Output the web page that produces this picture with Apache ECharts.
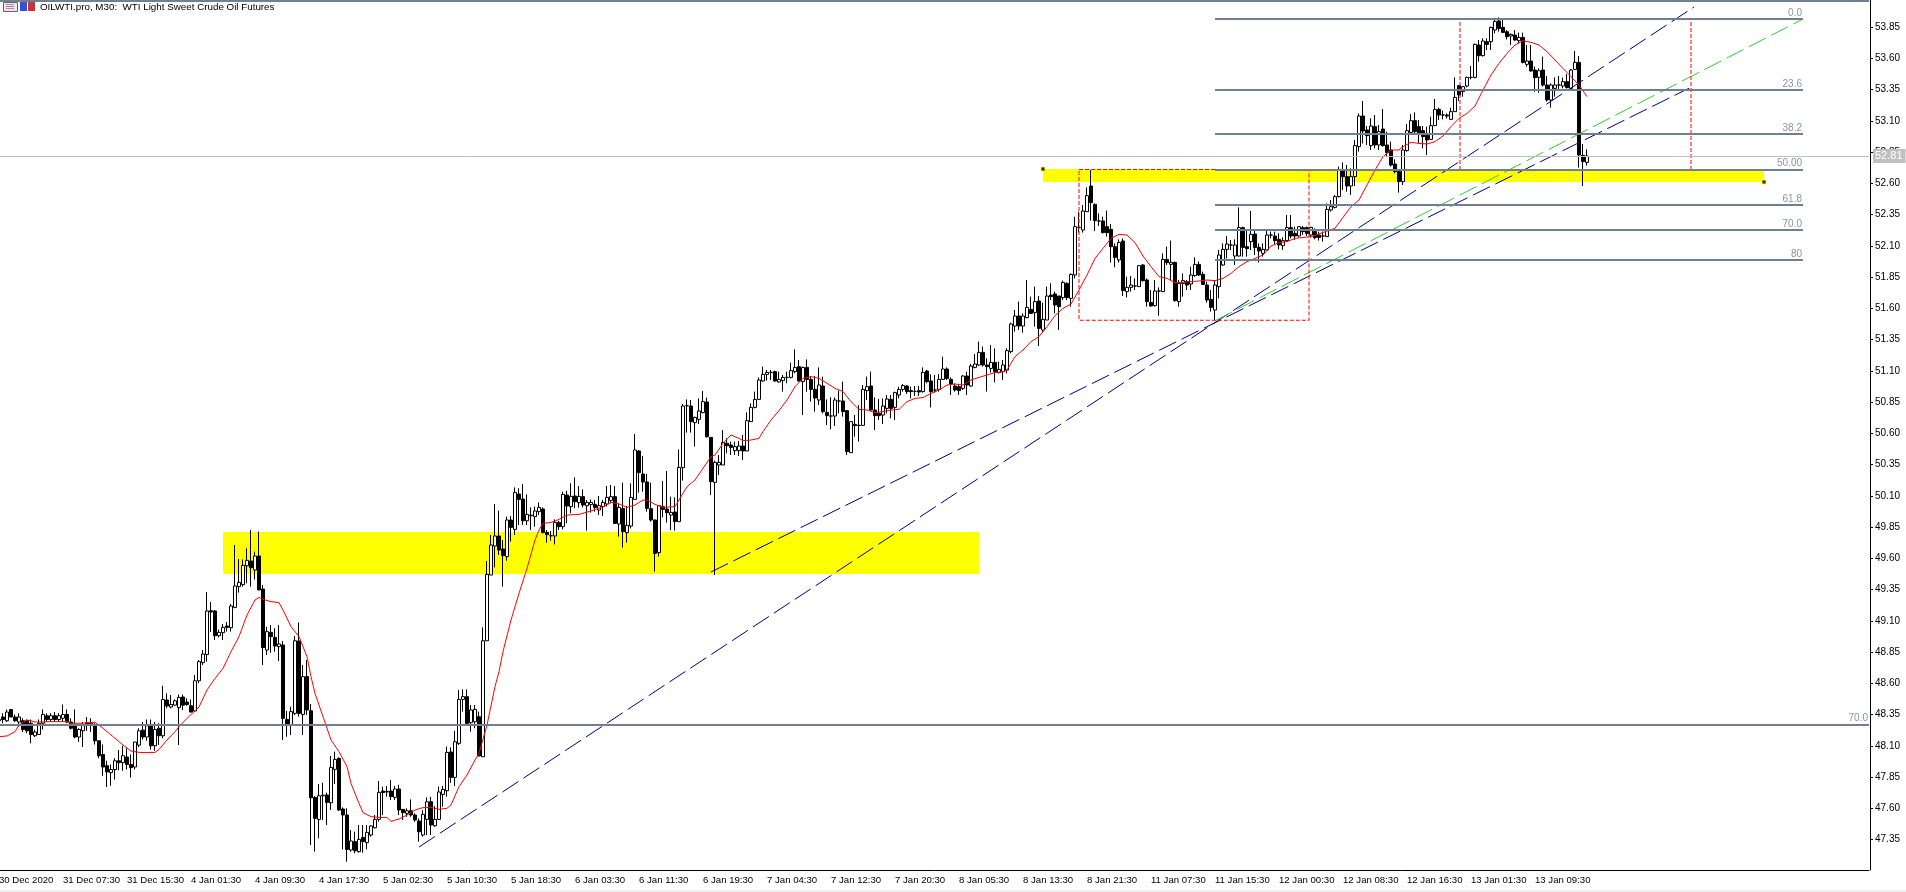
<!DOCTYPE html>
<html>
<head>
<meta charset="utf-8">
<title>OILWTI.pro M30</title>
<style>
html,body{margin:0;padding:0;background:#fff;overflow:hidden}
#chart{position:absolute;left:0;top:0;width:1906px;height:892px}
#strip{position:absolute;left:0;bottom:0;width:1906px;height:2px;background:#f0f0f0}
</style>
<script src="https://cdn.jsdelivr.net/npm/echarts@6/dist/echarts.min.js"></script>
</head>
<body>
<div id="chart"></div>
<div id="strip"></div>
<script>
const titleText = 'OILWTI.pro, M30:  WTI Light Sweet Crude Oil Futures';
const timeLabels = ['30 Dec 2020','31 Dec 07:30','31 Dec 15:30','4 Jan 01:30','4 Jan 09:30','4 Jan 17:30','5 Jan 02:30','5 Jan 10:30','5 Jan 18:30','6 Jan 03:30','6 Jan 11:30','6 Jan 19:30','7 Jan 04:30','7 Jan 12:30','7 Jan 20:30','8 Jan 05:30','8 Jan 13:30','8 Jan 21:30','11 Jan 07:30','11 Jan 15:30','12 Jan 00:30','12 Jan 08:30','12 Jan 16:30','13 Jan 01:30','13 Jan 09:30'];
const priceTicks = [47.35,47.60,47.85,48.10,48.35,48.60,48.85,49.10,49.35,49.60,49.85,50.10,50.35,50.60,50.85,51.10,51.35,51.60,51.85,52.10,52.35,52.60,52.85,53.10,53.35,53.60,53.85];

// candle rows: [open, close, low, high]
const candlesDec = [
[48.30,48.31,48.27,48.33],[48.33,48.31,48.28,48.36],[48.30,48.37,48.29,48.39],[48.39,48.33,48.33,48.39],[48.33,48.30,48.29,48.35],[48.29,48.33,48.25,48.36],[48.30,48.23,48.21,48.32],[48.30,48.22,48.20,48.31],[48.28,48.19,48.12,48.31],[48.18,48.21,48.17,48.23],
[48.19,48.28,48.19,48.31],[48.28,48.35,48.23,48.39],[48.34,48.31,48.29,48.36],[48.31,48.34,48.29,48.36],[48.34,48.31,48.29,48.37],[48.31,48.34,48.29,48.36],[48.32,48.35,48.29,48.43],[48.35,48.29,48.28,48.39],[48.29,48.24,48.23,48.32],[48.27,48.17,48.16,48.39],
[48.17,48.23,48.13,48.24],[48.22,48.27,48.09,48.29],[48.28,48.27,48.22,48.33],[48.27,48.28,48.21,48.32],[48.27,48.14,48.11,48.28],[48.14,48.02,48.00,48.14],[48.03,47.93,47.86,48.11],[47.94,47.89,47.77,47.98],[47.885,47.91,47.78,47.95],[47.91,47.98,47.83,48.00],
[47.98,47.965,47.905,48.065],[47.965,48.02,47.90,48.10],[48.01,47.95,47.91,48.08],[47.95,47.925,47.845,48.03],[47.93,48.13,47.91,48.13],[48.105,48.22,48.09,48.24],[48.225,48.17,48.15,48.29],[48.17,48.26,48.14,48.31],[48.26,48.10,48.07,48.31],[48.10,48.23,48.06,48.29],
[48.24,48.18,48.107,48.28],[48.18,48.47,48.16,48.58],[48.466,48.418,48.40,48.52],[48.41,48.43,48.40,48.506],[48.425,48.46,48.42,48.47],[48.405,48.487,48.106,48.51],[48.49,48.425,48.386,48.51],[48.45,48.43,48.42,48.48],[48.42,48.37,48.366,48.47],[48.378,48.62,48.37,48.666]
];
const candlesJan4 = [
[48.62,48.773,48.60,48.786],[48.765,48.834,48.745,48.866],[48.83,49.178,48.773,49.33],[49.18,49.17,49.01,49.25],[49.178,48.98,48.946,49.186],[48.98,49.007,48.967,49.03],[49.005,49.047,48.946,49.074],[49.058,49.047,49.013,49.09],[49.045,49.218,49.013,49.234],[49.207,49.378,49.20,49.706],
[49.373,49.407,49.325,49.594],[49.389,49.543,49.373,49.591],[49.54,49.583,49.40,49.68],[49.578,49.525,49.373,49.826],[49.506,49.618,49.43,49.653],[49.618,49.346,49.346,49.813],[49.354,48.885,48.746,49.386],[48.866,49.013,48.826,49.053],[49.007,48.973,48.845,49.066],[48.967,48.898,48.853,49.04],
[48.893,48.914,48.778,49.066],[48.906,48.319,48.146,48.938],[48.311,48.271,48.172,48.378],[48.266,48.373,48.186,48.413],[48.359,48.94,48.346,48.978],[48.938,48.359,48.333,49.087],[48.351,48.653,48.186,48.746],[48.653,48.386,48.346,48.786],[48.38,47.684,47.306,48.434],[47.687,47.519,47.253,47.698],
[47.511,47.70,47.36,47.794],[47.70,47.705,47.506,47.804],[47.706,47.647,47.466,47.725],[47.644,47.927,47.586,48.018],[47.911,47.991,47.794,48.053],[47.999,47.586,47.578,48.007],[47.594,47.546,47.271,47.607],[47.546,47.271,47.172,47.60],[47.266,47.338,47.253,47.426],[47.333,47.26,47.24,47.413],
[47.253,47.351,47.245,47.466],[47.367,47.333,47.245,47.466],[47.325,47.407,47.271,47.466],[47.386,47.458,47.373,47.466],[47.444,47.511,47.439,47.546],[47.511,47.727,47.493,47.818],[47.738,47.725,47.546,47.772],[47.73,47.735,47.693,47.778],[47.738,47.693,47.666,47.826],[47.687,47.754,47.666,47.778]
];
const candlesJan5 = [
[47.754,47.586,47.546,47.788],[47.591,47.565,47.506,47.594],[47.559,47.58,47.532,47.60],[47.58,47.546,47.532,47.671],[47.546,47.506,47.493,47.56],[47.498,47.412,47.332,47.519],[47.386,47.551,47.373,47.586],[47.511,47.652,47.386,47.687],[47.652,47.466,47.386,47.692],[47.46,47.511,47.452,47.618],
[47.511,47.73,47.506,47.773],[47.711,47.751,47.612,47.778],[47.74,48.047,47.693,48.093],[48.05,47.847,47.804,48.087],[47.847,48.132,47.778,48.22],[48.119,48.471,48.106,48.546],[48.471,48.493,48.373,48.551],[48.493,48.279,48.279,48.551],[48.285,48.386,48.213,48.426],[48.292,48.391,48.24,48.426],
[48.332,48.018,48.018,48.373],[48.012,48.94,48.012,49.047],[48.94,49.471,48.94,49.578],[49.466,49.706,49.466,49.786],[49.698,49.778,49.527,50.034],[49.778,49.666,49.626,49.981],[49.674,49.621,49.373,49.746],[49.613,49.906,49.58,49.933],[49.906,49.847,49.733,49.938],[49.831,50.127,49.786,50.167],
[50.114,50.071,49.866,50.159],[50.074,49.90,49.866,50.194],[49.90,49.951,49.866,50.111],[49.94,49.945,49.826,50.007],[49.933,49.978,49.853,50.013],[49.973,50.007,49.946,50.047],[49.994,49.805,49.80,50.007],[49.807,49.789,49.725,49.826],[49.78,49.78,49.741,49.818],[49.778,49.887,49.711,49.911],
[49.887,49.853,49.826,49.90],[49.853,50.111,49.831,50.133],[50.106,50.018,49.88,50.14],[50.013,50.095,49.96,50.20],[50.098,50.053,50.00,50.247],[50.045,50.095,50.005,50.178],[50.093,50.026,50.007,50.151],[50.02,50.047,49.82,50.066],[50.029,50.047,49.965,50.071],[50.031,50.007,49.973,50.066]
];
const candlesJan6 = [
[49.986,50.021,49.946,50.098],[50.013,50.047,49.938,50.066],[50.034,50.087,50.013,50.178],[50.061,50.093,50.039,50.186],[50.093,49.879,49.874,50.178],[49.874,50.007,49.773,50.039],[49.999,49.813,49.685,50.205],[49.805,49.863,49.725,50.018],[49.858,50.087,49.839,50.199],[50.071,50.466,50.071,50.594],
[50.458,50.285,50.125,50.466],[50.274,50.21,50.133,50.418],[50.21,49.999,49.973,50.274],[49.997,49.906,49.893,50.205],[49.906,49.639,49.493,49.911],[49.645,50.021,49.613,50.026],[50.013,49.991,49.927,50.218],[49.994,49.965,49.885,50.298],[49.946,49.967,49.826,50.093],[49.97,49.893,49.821,50.087],
[49.893,50.327,49.893,50.471],[50.325,50.818,50.221,50.834],[50.82,50.82,50.605,50.871],[50.818,50.693,50.605,50.866],[50.685,50.727,50.493,50.733],[50.711,50.778,50.674,50.879],[50.765,50.853,50.759,50.938],[50.85,50.573,50.565,50.885],[50.567,50.213,50.106,50.568],[50.207,50.367,49.466,50.381],
[50.346,50.367,50.266,50.426],[50.346,50.527,50.346,50.626],[50.52,50.50,50.44,50.56],[50.506,50.487,50.426,50.533],[50.461,50.493,50.426,50.533],[50.461,50.498,50.418,50.538],[50.498,50.458,50.386,50.586],[50.458,50.701,50.458,50.767],[50.693,50.807,50.693,50.839],[50.807,50.871,50.799,50.933],
[50.871,51.026,50.866,51.047],[51.018,51.071,51.013,51.133],[51.071,51.087,51.021,51.106],[51.087,51.087,51.026,51.106],[51.093,51.018,51.013,51.101],[51.01,51.031,51.005,51.093],[51.021,51.047,50.933,51.066],[51.047,51.047,51.00,51.093],[51.047,51.101,51.039,51.165],[51.093,51.127,51.079,51.271]
];
const candlesJan7 = [
[51.133,51.018,51.013,51.186],[51.013,51.127,50.746,51.133],[51.127,51.031,50.933,51.191],[51.031,50.951,50.853,51.058],[50.951,50.882,50.773,51.058],[50.866,50.986,50.826,51.127],[50.978,50.773,50.759,51.053],[50.767,50.741,50.666,50.871],[50.738,50.738,50.631,50.887],[50.738,50.866,50.658,50.887],
[50.858,50.858,50.759,50.941],[50.858,50.773,50.733,51.013],[50.781,50.453,50.426,50.781],[50.445,50.693,50.445,50.693],[50.671,50.661,50.573,50.746],[50.663,50.663,50.533,50.826],[50.663,50.951,50.658,50.986],[50.941,50.973,50.866,51.053],[50.978,50.786,50.781,51.093],[50.786,50.741,50.626,50.887],
[50.759,50.741,50.706,50.874],[50.746,50.818,50.674,50.879],[50.799,50.874,50.759,50.906],[50.871,50.799,50.719,50.906],[50.807,50.925,50.706,50.933],[50.906,50.951,50.879,50.973],[50.951,50.981,50.933,50.994],[50.978,50.933,50.914,50.986],[50.941,50.933,50.879,50.973],[50.935,50.935,50.898,50.978],
[50.941,50.93,50.898,50.978],[50.933,51.087,50.925,51.127],[51.098,51.013,51.00,51.106],[51.018,50.933,50.807,51.071],[50.946,50.946,50.925,51.066],[50.951,51.031,50.933,51.074],[51.031,51.114,51.026,51.213],[51.114,51.039,51.026,51.127],[51.031,50.994,50.906,51.047],[50.978,50.946,50.933,50.999],
[50.973,50.941,50.906,50.986],[50.959,51.058,50.946,51.066],[51.058,50.986,50.906,51.093],[50.978,51.138,50.973,51.154],[51.127,51.154,51.119,51.234],[51.146,51.247,51.138,51.333],[51.247,51.146,51.133,51.293],[51.146,51.133,50.933,51.199],[51.119,51.167,51.085,51.306],[51.167,51.093,51.007,51.279]
];
const candlesJan8 = [
[51.085,51.111,51.079,51.173],[51.093,51.146,51.026,51.186],[51.106,51.261,51.079,51.279],[51.253,51.474,51.239,51.485],[51.458,51.538,51.413,51.586],[51.538,51.458,51.426,51.653],[51.458,51.538,51.405,51.559],[51.525,51.607,51.519,51.826],[51.591,51.559,51.559,51.693],[51.565,51.653,51.453,51.773],
[51.658,51.439,51.298,51.698],[51.426,51.511,51.405,51.645],[51.506,51.698,51.506,51.773],[51.706,51.693,51.666,51.799],[51.714,51.626,51.559,51.733],[51.698,51.613,51.426,51.698],[51.685,51.807,51.666,51.821],[51.799,51.685,51.666,51.807],[51.679,51.871,51.613,51.879],[51.866,52.253,51.839,52.333],
[52.247,52.247,52.205,52.373],[52.226,52.378,52.205,52.426],[52.373,52.501,52.373,52.567],[52.578,52.445,52.301,52.706],[52.431,52.301,52.218,52.439],[52.298,52.298,52.258,52.359],[52.298,52.205,52.199,52.333],[52.253,52.205,52.173,52.381],[52.231,52.093,51.965,52.274],[52.093,52.007,51.927,52.119],
[51.986,52.127,51.965,52.151],[52.138,51.741,51.698,52.159],[51.733,51.767,51.687,51.853],[51.767,51.786,51.733,51.858],[51.778,51.778,51.746,51.839],[51.773,51.941,51.773,51.946],[51.946,51.821,51.813,51.954],[51.826,51.653,51.613,51.839],[51.647,51.618,51.613,51.746],[51.621,51.738,51.613,51.826],
[51.738,51.738,51.541,51.767],[51.733,51.991,51.733,52.039],[51.991,51.965,51.946,52.093],[51.951,51.967,51.826,52.141],[51.967,51.661,51.653,51.973],[51.653,51.799,51.613,51.826],[51.799,51.821,51.693,51.879],[51.813,51.786,51.746,51.826],[51.794,51.866,51.746,51.933],[51.861,51.951,51.853,52.007]
];
const candlesJan11 = [
[51.951,51.866,51.858,51.973],[51.871,51.791,51.786,51.893],[51.786,51.666,51.645,51.813],[51.671,51.607,51.573,51.746],[51.586,51.786,51.506,51.826],[51.773,52.026,51.679,52.066],[51.946,52.071,51.938,52.119],[52.071,52.114,51.999,52.178],[52.106,52.106,52.066,52.146],[52.018,52.106,51.946,52.151],
[52.018,52.245,52.013,52.407],[52.245,52.087,52.013,52.253],[52.093,52.077,52.013,52.226],[52.133,52.191,52.066,52.378],[52.194,52.087,52.026,52.226],[52.087,52.058,51.965,52.119],[52.039,52.071,52.013,52.119],[52.066,52.186,52.066,52.221],[52.186,52.186,52.159,52.213],[52.178,52.141,52.106,52.213],
[52.151,52.106,52.071,52.199],[52.101,52.141,52.066,52.167],[52.141,52.245,52.133,52.346],[52.245,52.178,52.159,52.346],[52.199,52.178,52.146,52.253],[52.178,52.253,52.167,52.253],[52.245,52.213,52.186,52.258],[52.245,52.199,52.178,52.253],[52.186,52.247,52.167,52.253],[52.213,52.165,52.151,52.239],
[52.186,52.167,52.141,52.213],[52.178,52.178,52.133,52.213],[52.173,52.391,52.173,52.439],[52.386,52.413,52.373,52.466],[52.407,52.493,52.399,52.506],[52.493,52.706,52.487,52.733],[52.706,52.653,52.546,52.767],[52.653,52.578,52.533,52.746],[52.578,52.653,52.506,52.719],[52.653,52.901,52.578,52.946],
[52.893,53.138,52.853,53.159],[53.138,53.018,52.919,53.258],[53.026,52.981,52.906,53.058],[52.901,53.058,52.866,53.119],[53.053,52.906,52.879,53.146],[52.906,53.013,52.866,53.066],[53.034,52.901,52.893,53.194],[52.906,52.845,52.818,53.013],[52.866,52.746,52.733,52.933],[52.754,52.693,52.679,52.791]
];
const candlesJan12 = [
[52.693,52.613,52.525,52.706],[52.613,52.866,52.586,52.906],[52.861,53.021,52.853,53.074],[53.007,53.101,52.986,53.154],[53.101,53.013,52.999,53.167],[53.053,52.991,52.919,53.106],[53.021,52.973,52.879,53.058],[52.983,52.946,52.826,53.053],[52.951,53.061,52.946,53.133],[53.061,53.191,53.058,53.274],
[53.191,53.146,53.106,53.205],[53.146,53.146,53.111,53.181],[53.146,53.138,53.119,53.159],[53.111,53.173,53.106,53.205],[53.173,53.287,53.173,53.447],[53.381,53.306,53.258,53.386],[53.333,53.373,53.293,53.378],[53.378,53.447,53.367,53.453],[53.447,53.447,53.431,53.538],[53.447,53.711,53.439,53.719],
[53.706,53.621,53.573,53.746],[53.621,53.738,53.613,53.759],[53.733,53.711,53.666,53.759],[53.733,53.847,53.666,53.853],[53.826,53.895,53.799,53.906],[53.898,53.839,53.813,53.927],[53.847,53.807,53.805,53.906],[53.813,53.773,53.751,53.826],[53.778,53.791,53.706,53.799],[53.786,53.746,53.741,53.826],
[53.741,53.767,53.719,53.805],[53.767,53.567,53.559,53.805],[53.551,53.578,53.533,53.706],[53.578,53.498,53.493,53.706],[53.506,53.445,53.333,53.533],[53.447,53.501,53.325,53.519],[53.506,53.386,53.373,53.613],[53.386,53.266,53.253,53.458],[53.266,53.386,53.205,53.399],[53.359,53.386,53.293,53.447],
[53.386,53.386,53.346,53.458],[53.378,53.413,53.359,53.445],[53.413,53.365,53.359,53.474],[53.359,53.506,53.351,53.514],[53.511,53.567,53.506,53.658],[53.567,52.826,52.725,53.618],[52.823,52.773,52.578,52.914],[52.767,52.818,52.741,52.871]
];

// moving average: candle slot and price
const maSlotsA = [0,2,4,5,6,7,8,9,11,13,17,18,21,22,24,25,27,29,31,33,35,37,39,40,42,44,45,47,49,50,52,54,56,58,60,62,64,65,66,68,70,71,73,75,77,78,79,81,83,85,87,88,90,91,93,95,97,98,100,102,104,106,108,110,112,113,115,117,119,120,122,124,125];
const maValuesA = [48.173,48.178,48.213,48.266,48.287,48.306,48.30,48.29,48.29,48.293,48.293,48.28,48.28,48.287,48.287,48.266,48.213,48.16,48.106,48.058,48.047,48.045,48.047,48.07,48.146,48.213,48.253,48.319,48.38,48.41,48.546,48.639,48.719,48.853,48.973,49.146,49.266,49.287,49.271,49.253,49.245,49.186,49.053,48.973,48.813,48.653,48.519,48.333,48.146,48.053,47.933,47.799,47.639,47.565,47.533,47.527,47.525,47.495,47.514,47.546,47.586,47.605,47.607,47.591,47.60,47.626,47.773,47.866,47.986,48.039,48.266,48.573,48.693];
const maSlotsB = [126,128,130,132,134,135,136,138,140,142,145,148,151,153,155,157,159,161,162,164,166,169,170,172,174,176,178,179,181,183,185,186,188,190,191,193,195,197,199,201,203,205,207,209,211,213,215,217,219,221,223,225,227,229,231,233,235,237,239,241,243,245,247,249,251];
const maValuesB = [48.853,49.106,49.319,49.519,49.746,49.826,49.879,49.887,49.911,49.946,49.951,49.978,50.013,50.047,50.034,50.007,50.026,50.066,50.066,50.031,50.007,50.013,50.066,50.173,50.226,50.319,50.413,50.426,50.519,50.586,50.559,50.541,50.546,50.559,50.613,50.706,50.781,50.866,50.973,51.039,51.053,51.039,51.00,50.959,50.933,50.853,50.791,50.786,50.765,50.773,50.786,50.791,50.853,50.879,50.885,50.919,50.946,50.986,50.994,50.986,51.026,51.047,51.066,51.085,51.093];
const maSlotsC = [252,254,256,258,260,262,264,266,268,270,272,274,276,278,280,282,284,286,288,290,292,294,296,298,300,302,304,306,308,310,312,314,316,318,320,322,324,328,334,338,340,342,344,346,348,350,351,353,355,357,359,361,363,365,367,369,371,373,375,377,379,381,383,385,387,389,391,393,395,397];
const maValuesC = [51.106,51.213,51.266,51.333,51.373,51.453,51.541,51.599,51.634,51.746,51.866,51.999,52.079,52.159,52.191,52.186,52.125,52.018,51.933,51.853,51.839,51.805,51.807,51.813,51.818,51.826,51.821,51.839,51.879,51.933,51.973,51.999,52.026,52.098,52.125,52.133,52.159,52.173,52.24,52.413,52.466,52.586,52.706,52.813,52.866,52.866,52.893,52.927,52.919,52.914,52.933,52.978,53.053,53.119,53.159,53.218,53.346,53.466,53.559,53.639,53.706,53.741,53.727,53.706,53.653,53.586,53.519,53.453,53.386,53.293];

const supportZone = {from:56, to:245, high:49.81, low:49.474};
const resistanceZone = {from:261, to:441.25, high:52.714, low:52.61};
const trendA = [[105,47.29],[423.75,54.01]];
const trendB = [[178,49.49],[422.5,53.36]];
const trendGreen = [[304,51.50],[451,53.914]];
const boxOne = [[270,52.71],[327.5,52.71],[327.5,51.504],[270,51.504],[270,52.71]];
const boxTwo = [[365.25,53.914],[423,53.914],[423,52.71],[365.25,52.71],[365.25,53.914]];
const fibFrom = 304, fibTo = 451;
const fibLevels = [['0.0',53.914],['23.6',53.346],['38.2',52.994],['50.00',52.71],['61.8',52.426],['70.0',52.228],['80',51.988]];
const levelLine = 48.27, levelText = '70.0';
const lastPriceLevel = 52.818, lastPriceText = '52.81';
const topEdgeLevel = 54.058;
const handles = [[261,52.714],[441.25,52.61]];

const SLOTS = 468, STEP = 16;
const categories = [];
for (let i = 0; i < SLOTS; i++) categories.push(i % STEP === 0 && i / STEP < timeLabels.length ? timeLabels[i / STEP] : '');
const candles = [].concat(candlesDec, candlesJan4, candlesJan5, candlesJan6, candlesJan7, candlesJan8, candlesJan11, candlesJan12);
const zip = (a, b) => a.map((v, i) => [v, b[i]]);
const ma = [].concat(zip(maSlotsA, maValuesA), zip(maSlotsB, maValuesB), zip(maSlotsC, maValuesC));

const FONT = '"Liberation Sans",sans-serif';
const SLATE = '#708090', GREY = '#8a95a3';
const overlay = (name, data, color, dash, z) => ({
  name, type: 'line', xAxisIndex: 1, yAxisIndex: 0, data, symbol: 'none', silent: true, z,
  lineStyle: {color, width: 1, type: dash}, animation: false
});

const chart = echarts.init(document.getElementById('chart'), null, {renderer: 'canvas'});
chart.setOption({
  animation: false,
  backgroundColor: '#ffffff',
  title: {text: titleText, left: 40, top: 2, padding: 0, textStyle: {fontFamily: FONT, fontSize: 9.8, fontWeight: 'normal', color: '#000'}},
  graphic: [
    {type:'rect', left:3, top:2, shape:{width:14,height:9}, style:{fill:'#e8e8f4', stroke:'#666'}, z:10},
    {type:'rect', left:6, top:4, shape:{width:8,height:1}, style:{fill:'#e08080'}, z:11},
    {type:'rect', left:6, top:6, shape:{width:8,height:1}, style:{fill:'#8080e0'}, z:11},
    {type:'rect', left:6, top:8, shape:{width:8,height:1}, style:{fill:'#e08080'}, z:11},
    {type:'rect', left:20, top:2, shape:{width:7,height:9}, style:{fill:'#3a4fd8'}, z:10},
    {type:'rect', left:28, top:2, shape:{width:7,height:9}, style:{fill:'#cc3333'}, z:10}
  ],
  grid: {left: -3, width: 1872, top: 0, height: 870, containLabel: false, outerBoundsMode: 'none'},
  xAxis: [
    {type: 'category', data: categories, boundaryGap: true,
     axisLine: {onZero: false, lineStyle: {color: '#000', width: 1}},
     axisTick: {alignWithLabel: true, length: 3, lineStyle: {color: '#000'}, interval: i => i % STEP === 0 && i / STEP < timeLabels.length},
     axisLabel: {interval: i => i % STEP === 0, align: 'left', margin: 5, fontFamily: FONT, fontSize: 9.6, color: '#000', hideOverlap: false, showMinLabel: true},
     splitLine: {show: false}},
    {type: 'value', min: -0.5, max: SLOTS - 0.5, show: false, axisLine: {onZero: false}, splitLine: {show: false}}
  ],
  yAxis: {type: 'value', position: 'right', offset: 1, min: 47.106, max: 54.066, scale: true,
    axisLine: {show: true, onZero: false, lineStyle: {color: '#000', width: 1}},
    axisTick: {show: true, length: 3, lineStyle: {color: '#000'}, customValues: priceTicks},
    axisLabel: {show: true, customValues: priceTicks, margin: 5, fontFamily: FONT, fontSize: 10, color: '#000', formatter: v => v.toFixed(2)},
    splitLine: {show: false}},
  series: [
    {name: 'zones', type: 'line', xAxisIndex: 1, data: [], silent: true, z: 1,
     markArea: {silent: true, z: 1, itemStyle: {color: '#ffff00', opacity: 1}, label: {show: false}, data: [
       [{coord: [supportZone.from, supportZone.high]}, {coord: [supportZone.to, supportZone.low]}],
       [{coord: [resistanceZone.from, resistanceZone.high]}, {coord: [resistanceZone.to, resistanceZone.low]}]
     ]}},
    {name: 'OILWTI.pro', type: 'candlestick', data: candles, barWidth: 3, silent: true, z: 2, large: false, progressive: 0,
     itemStyle: {color: '#ffffff', color0: '#000000', borderColor: '#000000', borderColor0: '#000000', borderColorDoji: '#000000', borderWidth: 1}},
    overlay('trendA', trendA, '#00008b', [19, 6], 3),
    overlay('trendB', trendB, '#00008b', [19, 6], 3),
    overlay('trendGreen', trendGreen, '#32cd32', [19, 6], 3),
    overlay('boxOne', boxOne, '#ff0000', [4, 2], 3),
    overlay('boxTwo', boxTwo, '#ff0000', [4, 2], 3),
    overlay('MA', ma, '#ff0000', 'solid', 4),
    {name: 'levels', type: 'line', xAxisIndex: 1, data: [], silent: true, z: 4,
     markLine: {silent: true, symbol: 'none', animation: false, precision: 3,
       lineStyle: {color: SLATE, width: 2, type: 'solid'},
       label: {show: true, position: 'insideEndTop', distance: 1, color: GREY, fontFamily: FONT, fontSize: 10},
       data: fibLevels.map(f => [
         {coord: [fibFrom, f[1]], label: {formatter: f[0]}},
         {coord: [fibTo, f[1]]}
       ]).concat([
         {yAxis: levelLine, label: {formatter: levelText}},
         {yAxis: topEdgeLevel, label: {show: false}},
         {yAxis: lastPriceLevel, lineStyle: {color: '#c0c0c0', width: 1},
          label: {formatter: lastPriceText, position: 'end', distance: 4, color: '#ffffff', backgroundColor: '#c0c0c0', padding: [2, 3, 1, 2], fontFamily: FONT, fontSize: 11}}
       ])}},
    {name: 'handles', type: 'scatter', xAxisIndex: 1, data: handles, symbol: 'rect', symbolSize: 4, silent: true, z: 5,
     itemStyle: {color: '#000000', borderColor: '#ffff00', borderWidth: 1}}
  ]
});
</script>
</body>
</html>
